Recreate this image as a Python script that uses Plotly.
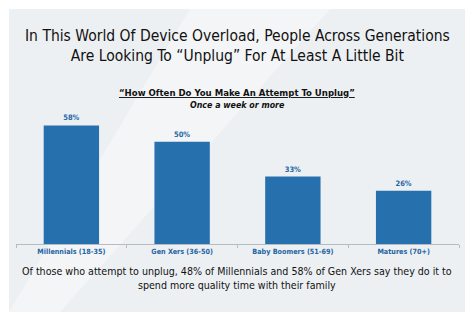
import plotly.graph_objects as go

categories = ["Millennials (18-35)", "Gen Xers (36-50)", "Baby Boomers (51-69)", "Matures (70+)"]
values = [58, 50, 33, 26]
labels = ["58%", "50%", "33%", "26%"]

title_text = "In This World Of Device Overload, People Across Generations<br>Are Looking To \u201cUnplug\u201d For At Least A Little Bit"
subtitle_text = "<u><b>\u201cHow Often Do You Make An Attempt To Unplug\u201d</b></u>"
subsub_text = "<b><i>Once a week or more</i></b>"
foot_text = "Of those who attempt to unplug, 48% of Millennials and 58% of Gen Xers say they do it to<br>spend more quality time with their family"

W, H = 474, 322
ML, MR, MT, MB = 16, 15, 114, 78
PH = H - MT - MB
BASE = H - MB

def py(p):
    return (BASE - p) / PH

def px(p):
    return (p - ML) / (W - ML - MR)

FONT = "DejaVu Sans Condensed"
BLUE = "#2566a3"

fig = go.Figure()
fig.add_trace(go.Bar(
    x=categories, y=values, text=labels, textposition="outside",
    width=0.5,
    marker=dict(color="#2670ad", line=dict(width=0)),
    textfont=dict(family=FONT, size=7.5, color=BLUE, weight="bold"),
    cliponaxis=False,
))

shapes = [
    dict(type="rect", xref="paper", yref="paper", x0=px(9), x1=px(465), y0=py(312), y1=py(9),
         fillcolor="#edf0f3", line=dict(width=0), layer="below"),
    dict(type="path", xref="paper", yref="paper",
         path="M %f,%f L %f,%f L %f,%f L %f,%f Z" % (px(190), py(9), px(330), py(9), px(60), py(312), px(9), py(312)),
         fillcolor="rgba(255,255,255,0.35)", line=dict(width=0), layer="below"),
]

annotations = [
    dict(text=title_text, x=px(237), y=py(46), xref="paper", yref="paper", xanchor="center", yanchor="middle",
         showarrow=False, font=dict(family=FONT, size=15.5, color="#111111")),
    dict(text=subtitle_text, x=px(237), y=py(92), xref="paper", yref="paper", xanchor="center", yanchor="middle",
         showarrow=False, font=dict(family=FONT, size=9.5, color="#111111")),
    dict(text=subsub_text, x=px(237), y=py(105), xref="paper", yref="paper", xanchor="center", yanchor="middle",
         showarrow=False, font=dict(family=FONT, size=8.8, color="#111111")),
    dict(text=foot_text, x=px(237), y=py(278), xref="paper", yref="paper", xanchor="center", yanchor="middle",
         showarrow=False, font=dict(family=FONT, size=10.6, color="#111111")),
]

fig.update_layout(
    width=W, height=H,
    margin=dict(l=ML, r=MR, t=MT, b=MB),
    paper_bgcolor="white", plot_bgcolor="rgba(0,0,0,0)",
    showlegend=False,
    shapes=shapes, annotations=annotations,
    bargap=0.5,
    xaxis=dict(showline=True, linecolor="#b5bcc4", linewidth=1, ticks="outside", tickson="boundaries",
               ticklen=3, tickcolor="#b5bcc4", showgrid=False,
               tickfont=dict(family=FONT, size=7.2, color=BLUE, weight="bold")),
    yaxis=dict(range=[0, PH / 2.045], visible=False, showgrid=False, zeroline=False),
)

fig.write_html("out.html")
